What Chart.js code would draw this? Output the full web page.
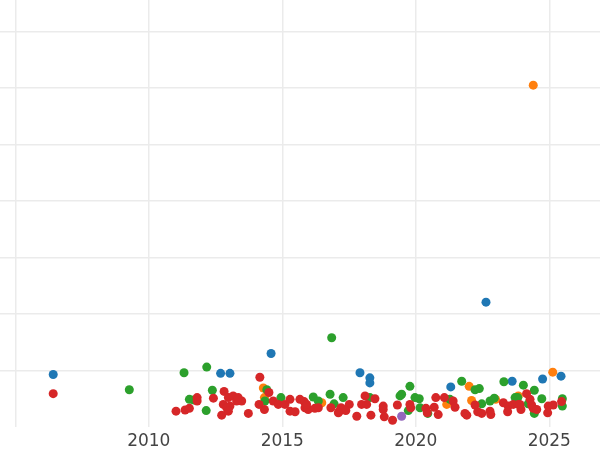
<!DOCTYPE html>
<html lang="en">
<head>
    <meta charset="utf-8">
    <title>Scatter</title>
    <script src="https://cdn.jsdelivr.net/npm/chart.js@4.4.1/dist/chart.umd.min.js"></script>
    <style>
        body { margin: 0; background: #fff; }
    </style>
</head>
<body>
    <canvas id="chart" width="600" height="450"></canvas>
    <script>
        // axis ticks
        const xTicks = [2005, 2010, 2015, 2020, 2025];
        const yGrid = [1, 2, 3, 4, 5, 6, 7];

        // series (x = year, y = value, gridline step = 1)
        const blueX = [2006.42, 2012.69, 2013.04, 2014.58, 2017.91, 2018.28, 2018.28, 2021.31, 2022.63, 2023.61, 2024.75, 2025.44];
        const blueY = [0.93, 0.95, 0.95, 1.30, 0.96, 0.87, 0.78, 0.71, 2.21, 0.81, 0.85, 0.90];

        const orangeX = [2024.40, 2025.13, 2014.29, 2014.33, 2016.48, 2022.00, 2022.09, 2021.16, 2022.99, 2023.84];
        const orangeY = [6.05, 0.97, 0.69, 0.52, 0.43, 0.72, 0.47, 0.40, 0.49, 0.55];

        const greenX = [2009.27, 2011.32, 2012.17, 2012.38, 2011.52, 2011.67, 2012.15, 2014.42, 2014.35, 2014.95,
            2016.16, 2016.35, 2016.79, 2016.94, 2016.85, 2017.28, 2018.28, 2019.41, 2019.47, 2019.78,
            2019.72, 2019.97, 2020.13, 2020.16, 2020.45, 2021.72, 2021.28, 2022.22, 2022.38, 2022.47,
            2022.78, 2022.94, 2023.30, 2023.72, 2024.03, 2024.44, 2024.72, 2024.44, 2025.49, 2025.49,
            2024.21, 2023.82];
        const greenY = [0.66, 0.96, 1.06, 0.65, 0.49, 0.48, 0.29, 0.66, 0.46, 0.52,
            0.53, 0.46, 0.58, 0.41, 1.58, 0.52, 0.52, 0.55, 0.58, 0.72,
            0.29, 0.52, 0.50, 0.34, 0.24, 0.81, 0.49, 0.66, 0.68, 0.41,
            0.46, 0.51, 0.80, 0.52, 0.74, 0.65, 0.50, 0.24, 0.50, 0.37,
            0.41, 0.52];

        const redX = [2006.42, 2011.02, 2011.36, 2011.52, 2011.81, 2011.81, 2012.42, 2012.82, 2012.73, 2013.73,
            2014.16, 2014.50, 2014.33, 2014.13, 2012.79, 2012.98, 2013.16, 2013.29, 2013.48, 2013.04,
            2012.92, 2012.98, 2013.35, 2014.66, 2014.85, 2015.10, 2015.29, 2015.29, 2015.48, 2015.82,
            2015.85, 2015.97, 2016.22, 2016.82, 2017.12, 2017.20, 2017.51, 2017.28, 2017.38, 2017.79,
            2018.10, 2017.97, 2018.16, 2018.32, 2018.47, 2018.78, 2018.78, 2018.82, 2019.13, 2019.31,
            2019.78, 2019.81, 2020.38, 2020.43, 2020.75, 2021.07, 2021.40, 2021.47, 2020.69, 2020.84,
            2022.22, 2021.84, 2021.91, 2022.32, 2022.47, 2022.78, 2022.81, 2023.28, 2023.46, 2023.44,
            2023.65, 2024.15, 2024.28, 2023.84, 2023.94, 2024.34, 2024.40, 2024.53, 2024.96, 2025.15,
            2024.94, 2025.46, 2017.10, 2015.91, 2016.35, 2023.90, 2015.66];
        const redY = [0.59, 0.28, 0.30, 0.33, 0.52, 0.46, 0.51, 0.63, 0.21, 0.24,
            0.88, 0.61, 0.31, 0.40, 0.40, 0.52, 0.55, 0.46, 0.46, 0.37,
            0.34, 0.28, 0.52, 0.46, 0.40, 0.40, 0.49, 0.28, 0.27, 0.45,
            0.34, 0.31, 0.33, 0.34, 0.27, 0.34, 0.40, 0.31, 0.29, 0.19,
            0.55, 0.40, 0.40, 0.21, 0.50, 0.37, 0.31, 0.18, 0.12, 0.39,
            0.40, 0.34, 0.33, 0.25, 0.52, 0.52, 0.46, 0.35, 0.35, 0.22,
            0.39, 0.24, 0.21, 0.27, 0.24, 0.28, 0.22, 0.43, 0.37, 0.27,
            0.40, 0.59, 0.49, 0.40, 0.31, 0.39, 0.33, 0.31, 0.37, 0.39,
            0.25, 0.45, 0.25, 0.40, 0.34, 0.40, 0.49];

        const purpleX = [2019.47];
        const purpleY = [0.19];

        function pts(xs, ys) {
            return xs.map((x, i) => ({ x: x, y: ys[i] }));
        }

        // first dataset is drawn on top
        const series = [
            { data: pts(purpleX, purpleY), color: '#9467bd' },
            { data: pts(redX, redY), color: '#d62728' },
            { data: pts(greenX, greenY), color: '#2ca02c' },
            { data: pts(orangeX, orangeY), color: '#ff7f0e' },
            { data: pts(blueX, blueY), color: '#1f77b4' }
        ];

        const gridStyle = { color: '#ebebeb', lineWidth: 1.5, drawTicks: false };

        new Chart(document.getElementById('chart'), {
            type: 'scatter',
            data: {
                datasets: series.map(s => ({
                    data: s.data,
                    backgroundColor: s.color,
                    borderWidth: 0,
                    pointRadius: 4.5,
                    pointHoverRadius: 4.5
                }))
            },
            options: {
                responsive: false,
                animation: false,
                layout: { padding: 0, autoPadding: false },
                plugins: {
                    legend: { display: false },
                    tooltip: { enabled: false }
                },
                scales: {
                    x: {
                        type: 'linear',
                        min: 2004.427,
                        max: 2026.9,
                        afterBuildTicks: s => { s.ticks = xTicks.map(v => ({ value: v })); },
                        afterFit: s => { s.height = 23; },
                        grid: gridStyle,
                        border: { display: false },
                        ticks: {
                            autoSkip: false,
                            maxRotation: 0,
                            padding: 4,
                            color: '#444444',
                            font: { family: 'DejaVu Sans', size: 17 },
                            callback: v => (v === 2005 ? '' : String(v))
                        }
                    },
                    y: {
                        min: 0,
                        max: 7.557,
                        afterBuildTicks: s => { s.ticks = yGrid.map(v => ({ value: v })); },
                        grid: gridStyle,
                        border: { display: false },
                        ticks: { display: false }
                    }
                }
            }
        });
    </script>
</body>
</html>
